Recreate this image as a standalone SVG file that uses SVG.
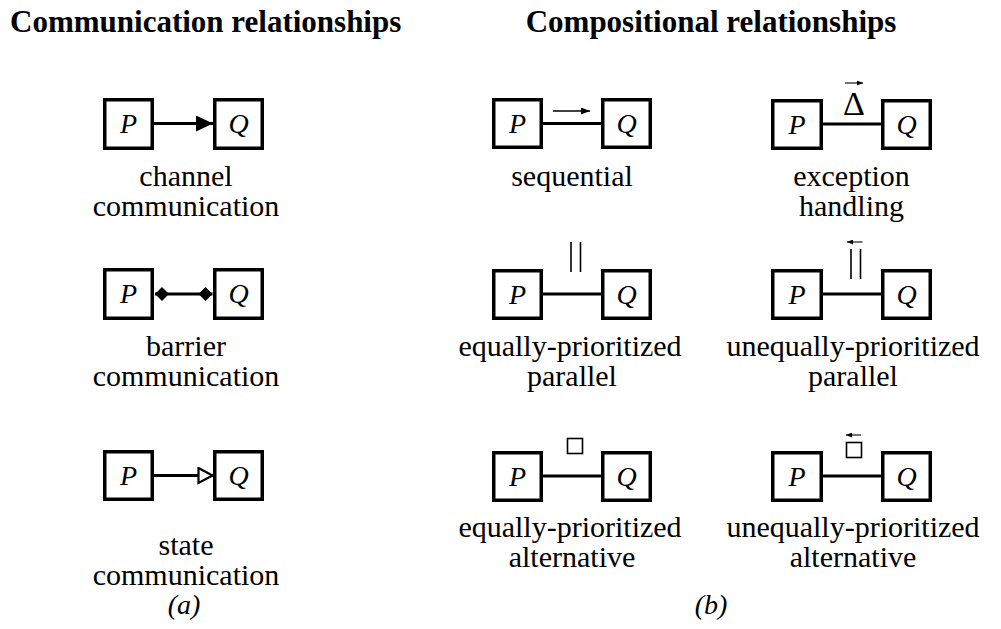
<svg xmlns="http://www.w3.org/2000/svg" width="1001" height="629" viewBox="0 0 1001 629">
  <style>
    text { font-family: 'Liberation Serif', 'DejaVu Serif', serif; fill: #000; }
    .box { fill: #fff; stroke: #000; stroke-width: 3.5; }
    .nl { font-style: italic; font-size: 28px; text-anchor: middle; }
    .title { font-weight: bold; font-size: 31px; }
    .cap { font-size: 30px; text-anchor: middle; }
    .sub { font-style: italic; font-size: 28px; text-anchor: middle; }
    .conn { stroke: #000; stroke-width: 3.2; fill: none; }
    .thin { stroke: #000; stroke-width: 1.6; fill: none; }
    .hair { stroke: #000; stroke-width: 1.1; fill: none; }
    .op { font-size: 34px; text-anchor: middle; }
  </style>
  <defs>
    <marker id="head-filled" markerUnits="userSpaceOnUse" markerWidth="17" markerHeight="16" refX="17" refY="8" orient="auto">
      <path d="M0,0 L17,8 L0,16 z" fill="#000"/>
    </marker>
    <marker id="head-diamond" markerUnits="userSpaceOnUse" markerWidth="15" markerHeight="15" refX="14.5" refY="7.5" orient="auto-start-reverse">
      <path d="M0.5,7.5 L7.5,0.5 L14.5,7.5 L7.5,14.5 z" fill="#000"/>
    </marker>
    <marker id="head-open" markerUnits="userSpaceOnUse" markerWidth="18" markerHeight="18" refX="16" refY="9" orient="auto">
      <path d="M1.5,1.5 L15.5,9 L1.5,16.5 z" fill="#fff" stroke="#000" stroke-width="2.2"/>
    </marker>
    <marker id="head-small" markerUnits="userSpaceOnUse" markerWidth="9" markerHeight="7" refX="9" refY="3.5" orient="auto">
      <path d="M0,0 L9,3.5 L0,7 z" fill="#000"/>
    </marker>
    <marker id="head-tiny" markerUnits="userSpaceOnUse" markerWidth="6" markerHeight="5" refX="6" refY="2.5" orient="auto-start-reverse">
      <path d="M0,0 L6,2.5 L0,5 z" fill="#000"/>
    </marker>
  </defs>

  <!-- headings -->
  <text class="title" x="10" y="32">Communication relationships</text>
  <text class="title" x="711" y="32" text-anchor="middle">Compositional relationships</text>

  <!-- connectors and operator symbols -->
  <g id="connectors">
    <line class="conn" x1="154" y1="123.5" x2="213" y2="123.5" marker-end="url(#head-filled)"/>
    <line class="conn" x1="155" y1="294" x2="212.5" y2="294" marker-start="url(#head-diamond)" marker-end="url(#head-diamond)"/>
    <line class="conn" x1="154" y1="475.5" x2="213" y2="475.5" marker-end="url(#head-open)"/>

    <line class="conn" x1="543" y1="123.5" x2="601" y2="123.5"/>
    <line class="thin" x1="553" y1="111" x2="590" y2="111" marker-end="url(#head-small)"/>

    <line class="conn" x1="823" y1="124" x2="881" y2="124"/>
    <line class="hair" x1="845" y1="83" x2="863" y2="83" marker-end="url(#head-tiny)"/>
    <text class="op" x="854" y="115">Δ</text>

    <line class="conn" x1="543" y1="294" x2="601" y2="294"/>
    <line class="thin" x1="571" y1="242" x2="571" y2="272"/>
    <line class="thin" x1="580.5" y1="242" x2="580.5" y2="272"/>

    <line class="conn" x1="823" y1="294" x2="881" y2="294"/>
    <line class="thin" x1="851" y1="249" x2="851" y2="279"/>
    <line class="thin" x1="860.5" y1="249" x2="860.5" y2="279"/>
    <line class="hair" x1="847" y1="242" x2="862.5" y2="242" marker-start="url(#head-tiny)"/>

    <line class="conn" x1="543" y1="476" x2="601" y2="476"/>
    <rect class="thin" x="567.5" y="438.5" width="15" height="15"/>

    <line class="conn" x1="823" y1="476" x2="881" y2="476"/>
    <rect class="thin" x="846.5" y="442.5" width="15" height="15"/>
    <line class="hair" x1="846" y1="435" x2="861" y2="435" marker-start="url(#head-tiny)"/>
  </g>

  <!-- (a) communication relationships -->
  <g id="channel-P"><rect class="box" x="104.75" y="99.75" width="47.5" height="48.5"/><text class="nl" x="128.5" y="133">P</text></g>
  <g id="channel-Q"><rect class="box" x="214.75" y="99.75" width="47.5" height="48.5"/><text class="nl" x="238.5" y="133">Q</text></g>
  <text class="cap" x="186" y="186">channel</text>
  <text class="cap" x="186" y="216">communication</text>

  <g id="barrier-P"><rect class="box" x="104.75" y="269.75" width="47.5" height="48.5"/><text class="nl" x="128.5" y="303">P</text></g>
  <g id="barrier-Q"><rect class="box" x="214.75" y="269.75" width="47.5" height="48.5"/><text class="nl" x="238.5" y="303">Q</text></g>
  <text class="cap" x="186" y="356">barrier</text>
  <text class="cap" x="186" y="386">communication</text>

  <g id="state-P"><rect class="box" x="104.75" y="451.75" width="47.5" height="47.5"/><text class="nl" x="128.5" y="485">P</text></g>
  <g id="state-Q"><rect class="box" x="214.75" y="451.75" width="47.5" height="47.5"/><text class="nl" x="238.5" y="485">Q</text></g>
  <text class="cap" x="186" y="555">state</text>
  <text class="cap" x="186" y="585">communication</text>

  <text class="sub" x="184" y="614">(a)</text>

  <!-- (b) compositional relationships -->
  <g id="seq-P"><rect class="box" x="493.75" y="99.75" width="47.5" height="47.5"/><text class="nl" x="517.5" y="133">P</text></g>
  <g id="seq-Q"><rect class="box" x="602.75" y="99.75" width="47.5" height="47.5"/><text class="nl" x="626.5" y="133">Q</text></g>
  <text class="cap" x="572" y="186">sequential</text>

  <g id="exc-P"><rect class="box" x="772.75" y="100.75" width="48.5" height="47.5"/><text class="nl" x="797" y="134">P</text></g>
  <g id="exc-Q"><rect class="box" x="882.75" y="100.75" width="47.5" height="47.5"/><text class="nl" x="906.5" y="134">Q</text></g>
  <text class="cap" x="851.5" y="186">exception</text>
  <text class="cap" x="851.5" y="216">handling</text>

  <g id="par-P"><rect class="box" x="493.75" y="270.75" width="47.5" height="47.5"/><text class="nl" x="517.5" y="304">P</text></g>
  <g id="par-Q"><rect class="box" x="602.75" y="270.75" width="47.5" height="47.5"/><text class="nl" x="626.5" y="304">Q</text></g>
  <text class="cap" x="570" y="356">equally-prioritized</text>
  <text class="cap" x="572" y="386">parallel</text>

  <g id="upar-P"><rect class="box" x="772.75" y="270.75" width="48.5" height="47.5"/><text class="nl" x="797" y="304">P</text></g>
  <g id="upar-Q"><rect class="box" x="882.75" y="270.75" width="47.5" height="47.5"/><text class="nl" x="906.5" y="304">Q</text></g>
  <text class="cap" x="853" y="356">unequally-prioritized</text>
  <text class="cap" x="853" y="386">parallel</text>

  <g id="alt-P"><rect class="box" x="493.75" y="452.75" width="47.5" height="47.5"/><text class="nl" x="517.5" y="486">P</text></g>
  <g id="alt-Q"><rect class="box" x="602.75" y="452.75" width="47.5" height="47.5"/><text class="nl" x="626.5" y="486">Q</text></g>
  <text class="cap" x="570" y="537">equally-prioritized</text>
  <text class="cap" x="572" y="567">alternative</text>

  <g id="ualt-P"><rect class="box" x="772.75" y="452.75" width="48.5" height="47.5"/><text class="nl" x="797" y="486">P</text></g>
  <g id="ualt-Q"><rect class="box" x="882.75" y="452.75" width="47.5" height="47.5"/><text class="nl" x="906.5" y="486">Q</text></g>
  <text class="cap" x="853" y="537">unequally-prioritized</text>
  <text class="cap" x="853" y="567">alternative</text>

  <text class="sub" x="711" y="614">(b)</text>
</svg>
